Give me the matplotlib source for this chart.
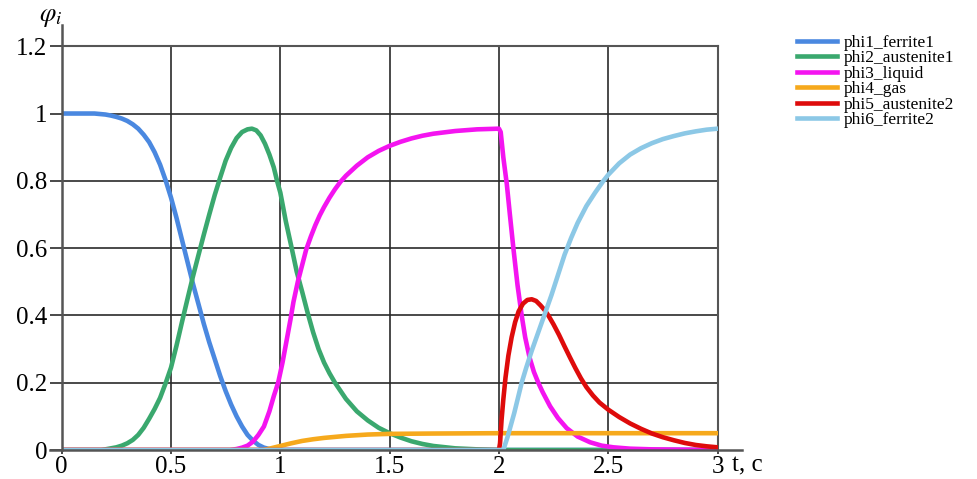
import matplotlib
matplotlib.use("Agg")
import matplotlib.pyplot as plt

plt.rcParams['font.family'] = ['Liberation Serif', 'DejaVu Serif']
plt.rcParams['mathtext.fontset'] = 'stix'

# values
t1 = [0, 0.1, 0.15, 0.2, 0.225, 0.25, 0.275, 0.3, 0.325, 0.35, 0.375, 0.4, 0.425, 0.45, 0.475, 0.5, 0.525,
      0.55, 0.575, 0.6, 0.625, 0.65, 0.675, 0.7, 0.725, 0.75, 0.775, 0.8, 0.825, 0.85, 0.875, 0.9, 0.925,
      0.95, 0.975, 1.0, 3.0]
phi1 = [1.0, 1.0, 1.0, 0.997, 0.994, 0.99, 0.985, 0.978, 0.968, 0.955, 0.937, 0.915, 0.885, 0.848, 0.802,
        0.75, 0.69, 0.625, 0.56, 0.495, 0.435, 0.375, 0.32, 0.27, 0.22, 0.175, 0.135, 0.1, 0.07, 0.045,
        0.028, 0.015, 0.007, 0.003, 0.001, 0, 0]

t2 = [0, 0.18, 0.2, 0.225, 0.25, 0.275, 0.3, 0.325, 0.35, 0.375, 0.4, 0.425, 0.45, 0.475, 0.5, 0.525, 0.55,
      0.575, 0.6, 0.625, 0.65, 0.675, 0.7, 0.725, 0.75, 0.775, 0.8, 0.825, 0.85, 0.87, 0.89, 0.91, 0.93,
      0.95, 0.97, 0.985, 1.0, 1.025, 1.052, 1.075, 1.1, 1.124, 1.15, 1.175, 1.2, 1.225, 1.25, 1.3, 1.35,
      1.4, 1.45, 1.5, 1.55, 1.6, 1.65, 1.7, 1.8, 1.9, 2.0, 3.0]
phi2 = [0, 0, 0.002, 0.005, 0.008, 0.013, 0.02, 0.03, 0.045, 0.066, 0.093, 0.122, 0.155, 0.198, 0.245, 0.31,
        0.38, 0.448, 0.515, 0.578, 0.64, 0.7, 0.758, 0.81, 0.86, 0.898, 0.927, 0.945, 0.953, 0.955, 0.95,
        0.935, 0.91, 0.878, 0.84, 0.8, 0.765, 0.68, 0.6, 0.53, 0.47, 0.41, 0.35, 0.3, 0.26, 0.228, 0.2,
        0.152, 0.115, 0.088, 0.066, 0.05, 0.037, 0.026, 0.018, 0.012, 0.005, 0.002, 0, 0]

t3 = [0, 0.77, 0.8, 0.825, 0.85, 0.875, 0.9, 0.925, 0.95, 0.97, 0.99, 1.01, 1.03, 1.047, 1.06, 1.08, 1.1,
      1.118, 1.14, 1.16, 1.18, 1.2, 1.225, 1.25, 1.275, 1.3, 1.35, 1.4, 1.45, 1.5, 1.55, 1.6, 1.65, 1.7,
      1.8, 1.9, 2.0, 2.008, 2.02, 2.036, 2.05, 2.066, 2.085, 2.104, 2.12, 2.14, 2.16, 2.18, 2.2, 2.234,
      2.27, 2.31, 2.36, 2.417, 2.47, 2.524, 2.6, 2.7, 3.0]
phi3 = [0, 0, 0.003, 0.007, 0.013, 0.025, 0.045, 0.07, 0.115, 0.16, 0.2, 0.26, 0.33, 0.39, 0.44, 0.5, 0.55,
        0.595, 0.635, 0.668, 0.697, 0.722, 0.75, 0.775, 0.797, 0.815, 0.845, 0.87, 0.889, 0.904, 0.916,
        0.926, 0.934, 0.94, 0.948, 0.953, 0.955, 0.945, 0.87, 0.79, 0.7, 0.6, 0.49, 0.4, 0.335, 0.275,
        0.232, 0.2, 0.172, 0.13, 0.095, 0.065, 0.04, 0.023, 0.013, 0.008, 0.004, 0.002, 0]

t4 = [0, 0.92, 0.95, 0.975, 1.0, 1.05, 1.1, 1.15, 1.2, 1.3, 1.4, 1.5, 1.7, 2.0, 3.0]
phi4 = [0, 0, 0.004, 0.008, 0.012, 0.02, 0.027, 0.032, 0.036, 0.042, 0.046, 0.048, 0.049, 0.05, 0.05]

t5 = [0, 2.0, 2.005, 2.012, 2.02, 2.03, 2.043, 2.058, 2.074, 2.09, 2.11, 2.13, 2.15, 2.17, 2.19, 2.21,
      2.226, 2.25, 2.275, 2.3, 2.325, 2.35, 2.375, 2.4, 2.43, 2.46, 2.5, 2.55, 2.6, 2.65, 2.7, 2.75, 2.8,
      2.85, 2.9, 2.95, 3.0]
phi5 = [0, 0, 0.02, 0.09, 0.15, 0.215, 0.28, 0.335, 0.38, 0.412, 0.435, 0.446, 0.448, 0.443, 0.43, 0.415,
        0.4, 0.373, 0.342, 0.308, 0.275, 0.243, 0.213, 0.187, 0.162, 0.141, 0.12, 0.098, 0.079, 0.063, 0.049,
        0.038, 0.029, 0.021, 0.015, 0.011, 0.008]

t6 = [0, 2.02, 2.03, 2.04, 2.055, 2.07, 2.087, 2.104, 2.125, 2.15, 2.18, 2.21, 2.24, 2.27, 2.3, 2.33, 2.36,
      2.4, 2.44, 2.478, 2.5, 2.55, 2.6, 2.65, 2.7, 2.75, 2.8, 2.85, 2.9, 2.95, 3.0]
phi6 = [0, 0, 0.02, 0.04, 0.075, 0.11, 0.155, 0.2, 0.245, 0.295, 0.35, 0.405, 0.46, 0.52, 0.58, 0.63, 0.675,
        0.725, 0.765, 0.8, 0.818, 0.852, 0.878, 0.897, 0.912, 0.924, 0.933, 0.941, 0.947, 0.952, 0.955]

labels = ['phi1_ferrite1', 'phi2_austenite1', 'phi3_liquid', 'phi4_gas', 'phi5_austenite2', 'phi6_ferrite2']
colors = ['#4a88e0', '#3aa86e', '#f414f0', '#f6a91c', '#de0b0b', '#8cc8e6']
xticks = [0, 0.5, 1, 1.5, 2, 2.5, 3]
xticklabels = ['0', '0.5', '1', '1.5', '2', '2.5', '3']
yticks = [0, 0.2, 0.4, 0.6, 0.8, 1.0, 1.2]
yticklabels = ['0', '0.2', '0.4', '0.6', '0.8', '1', '1.2']

fig = plt.figure(figsize=(9.78, 4.79), dpi=100)
ax = fig.add_axes([0.0631, 0.0605, 0.6706, 0.843])

series = [(t1, phi1), (t2, phi2), (t3, phi3), (t4, phi4), (t5, phi5), (t6, phi6)]
for (tt, yy), lab, col in zip(series, labels, colors):
    ax.plot(tt, yy, color=col, lw=3.3, label=lab, solid_joinstyle='round', zorder=3)

ax.set_xlim(0, 3)
ax.set_ylim(0, 1.2)
ax.set_xticks(xticks)
ax.set_xticklabels(xticklabels)
ax.set_yticks(yticks)
ax.set_yticklabels(yticklabels)
ax.grid(True, color='#2a2a2a', lw=1.2, zorder=1)
ax.tick_params(axis='y', direction='out', length=8.5, width=1.2, color='#2a2a2a', pad=2, labelsize=18)
ax.tick_params(axis='x', direction='out', length=3, width=1.2, color='#2a2a2a', pad=1, labelsize=18)

for s in ['top', 'right']:
    ax.spines[s].set_color('#555555')
    ax.spines[s].set_linewidth(1.5)
for s in ['left', 'bottom']:
    ax.spines[s].set_visible(False)

# extended axis lines
ax.plot([0, 0], [0, 1.053], transform=ax.transAxes, color='#555555', lw=1.8, clip_on=False, zorder=4)
ax.plot([-0.018, 1.037], [0, 0], transform=ax.transAxes, color='#555555', lw=1.8, clip_on=False, zorder=4)

ax.text(-0.017, 1.07, r'$\varphi_i$', transform=ax.transAxes, ha='center', va='center', fontsize=19)
ax.text(1.022, -0.012, 't, c', transform=ax.transAxes, ha='left', va='top', fontsize=18)

fig.legend(loc='upper left', bbox_to_anchor=(0.808, 0.942), frameon=False, fontsize=12.5,
           handlelength=2.3, handletextpad=0.4, labelspacing=-0.04, borderaxespad=0)

fig.savefig('out.png', dpi=100)
